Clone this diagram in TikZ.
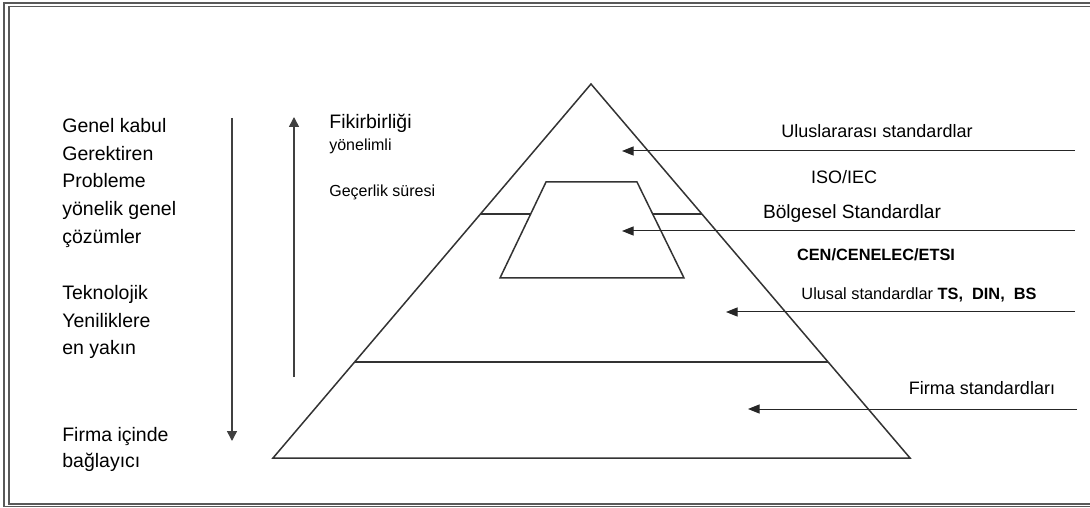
\documentclass[tikz,border=0pt]{standalone}
\usepackage{fontspec}
\setmainfont{Liberation Sans}
\usetikzlibrary{arrows.meta}

\begin{document}
\begin{tikzpicture}[x=0.6pt,y=-0.6pt]
% Styles for the texts, the levels and the arrows
\tikzset{
side text/.style={anchor=north west,inner sep=0pt,align=left,font=\fontsize{11.7}{16.65}\selectfont},
small text/.style={anchor=north west,inner sep=0pt,font=\fontsize{9.6}{11}\selectfont},
std label/.style={inner sep=0pt,font=\fontsize{10.8}{13}\selectfont},
level line/.style={line width=0.9pt,black!80},
std arrow/.style={-{Triangle[length=7pt,width=5.5pt]},line width=0.6pt,black!85},
side arrow/.style={-{Triangle[length=6pt,width=6pt]},line width=0.9pt,black!75}
}

\useasboundingbox (0,0) rectangle (1090,508);
\clip (0,0) rectangle (1090,508);

% Frame
\draw[line width=1pt,black!65] (4,3) rectangle (1096,506.5);
\draw[line width=1pt,black!65] (9,6.5) rectangle (1092,504);

% The pyramid
\coordinate (apex) at (591,84);
\coordinate (base left) at (273,458);
\coordinate (base right) at (910,458);
\draw[level line] (apex) -- (base left) -- (base right) -- cycle;
\coordinate (firm left) at (354.6,362);
\coordinate (firm right) at (827.6,362);
\draw[level line] (firm left) -- (firm right);

% The inner trapezoid
\coordinate (tr1) at (546,182);
\coordinate (tr2) at (637,182);
\coordinate (tr3) at (684,278);
\coordinate (tr4) at (500,278);
\draw[level line] (tr1) -- (tr2) -- (tr3) -- (tr4) -- cycle;
\coordinate (cut1) at (480.5,214);
\coordinate (cut2) at (530.7,214);
\coordinate (cut3) at (652.7,214);
\coordinate (cut4) at (701.5,214);
\draw[level line] (cut1) -- (cut2);
\draw[level line] (cut3) -- (cut4);

% Labels on the right
\node[std label] (intl) at (877,131) {Uluslararası standardlar};
\node[std label] (iso) at (844,177) {ISO/IEC};
\node[std label,font=\fontsize{11.5}{13}\selectfont] (regional) at (852,214) {Bölgesel Standardlar};
\node[std label,font=\bfseries\fontsize{9.8}{12}\selectfont] (cen) at (876,255) {CEN/CENELEC/ETSI};
\node[std label,font=\fontsize{9.8}{12}\selectfont] (national) at (919,295) {Ulusal standardlar \textbf{TS,\ \ DIN,\ \ BS}};
\node[std label] (firm) at (982,388) {Firma standardları};

% Arrows into the levels
\coordinate (intl s) at (1075,151);   \coordinate (intl e) at (622,151);
\coordinate (reg s) at (1075,231);    \coordinate (reg e) at (622,231);
\coordinate (nat s) at (1075,312);    \coordinate (nat e) at (726,312);
\coordinate (firm s) at (1077,409);   \coordinate (firm e) at (748,409);
\draw[std arrow] (intl s) -- (intl e);
\draw[std arrow] (reg s) -- (reg e);
\draw[std arrow] (nat s) -- (nat e);
\draw[std arrow] (firm s) -- (firm e);

% Texts on the left
\node[side text] (general) at (62,118) {Genel kabul\\Gerektiren\\Probleme\\yönelik genel\\çözümler};
\node[side text] (techno) at (62,285) {Teknolojik\\Yeniliklere\\en yakın};
\node[side text,font=\fontsize{11.7}{15.6}\selectfont] (inside) at (62,427) {Firma içinde\\bağlayıcı};
\node[side text] (consensus) at (329,114) {Fikirbirliği};
\node[small text] (oriented) at (329,139) {yönelimli};
\node[small text] (validity) at (329,185) {Geçerlik süresi};

% The two vertical arrows
\coordinate (down s) at (232,118);  \coordinate (down e) at (232,441);
\coordinate (up s) at (294,377);    \coordinate (up e) at (294,117);
\draw[side arrow] (down s) -- (down e);
\draw[side arrow] (up s) -- (up e);

\end{tikzpicture}
\end{document}
